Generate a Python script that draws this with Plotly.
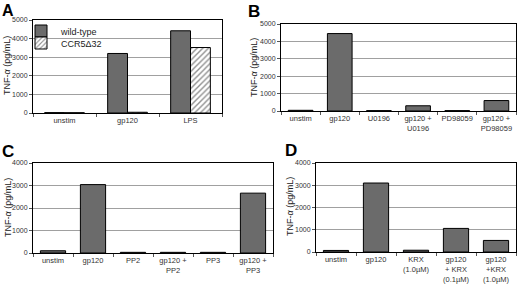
import plotly.graph_objects as go

# Panel A
a_cats = ["unstim", "gp120", "LPS"]
a_wild = [20, 3200, 4420]
a_ccr5 = [15, 40, 3520]

# Panel B
b_cats = ["unstim", "gp120", "U0196", "gp120 +<br>U0196", "PD98059", "gp120 +<br>PD98059"]
b_vals = [40, 4450, 20, 300, 20, 600]

# Panel C
c_cats = ["unstim", "gp120", "PP2", "gp120 +<br>PP2", "PP3", "gp120 +<br>PP3"]
c_vals = [100, 3040, 30, 30, 30, 2660]

# Panel D
d_cats = ["unstim", "gp120", "KRX<br>(1.0µM)", "gp120<br>+ KRX<br>(0.1µM)", "gp120<br>+KRX<br>(1.0µM)"]
d_vals = [70, 3100, 80, 1060, 520]

y_ticks_ab = [0, 1000, 2000, 3000, 4000, 5000]
y_ticks_cd = [0, 1000, 2000, 3000, 4000]
y_title = "TNF-<i>α</i> (pg/mL)"

BAR = "#6b6b6b"
FONT = "Liberation Sans, Arial, sans-serif"
W, H = 520, 292

fig = go.Figure()

fig.add_trace(go.Bar(x=a_cats, y=a_wild, name="wild-type", xaxis="x", yaxis="y", legend="legend",
                     marker=dict(color=BAR, line=dict(color="black", width=1))))
fig.add_trace(go.Bar(x=a_cats, y=a_ccr5, name="CCR5Δ32", xaxis="x", yaxis="y", legend="legend2",
                     marker=dict(color="white", line=dict(color="black", width=1),
                                 pattern=dict(shape="/", fgcolor="#222", bgcolor="white",
                                              size=4, solidity=0.35))))
fig.add_trace(go.Bar(x=b_cats, y=b_vals, xaxis="x2", yaxis="y2", showlegend=False,
                     marker=dict(color=BAR, line=dict(color="black", width=1))))
fig.add_trace(go.Bar(x=c_cats, y=c_vals, xaxis="x3", yaxis="y3", showlegend=False,
                     marker=dict(color=BAR, line=dict(color="black", width=1))))
fig.add_trace(go.Bar(x=d_cats, y=d_vals, xaxis="x4", yaxis="y4", showlegend=False,
                     marker=dict(color=BAR, line=dict(color="black", width=1))))


def px_dom_x(a, b):
    return [a / W, b / W]


def px_dom_y(top, bottom):
    return [1 - bottom / H, 1 - top / H]


xcommon = dict(showline=True, linecolor="black", linewidth=1, mirror=True,
               ticks="outside", tickson="boundaries", ticklen=3, tickcolor="#555",
               tickangle=0, automargin=False,
               tickfont=dict(size=7.5, color="#333", family=FONT), showgrid=False,
               fixedrange=True)
ycommon = dict(showline=True, linecolor="black", linewidth=1, mirror=True,
               ticks="outside", ticklen=3, tickcolor="#555", automargin=False,
               tickfont=dict(size=7, color="#333", family=FONT),
               showgrid=True, gridcolor="#a0a0a0", gridwidth=1, zeroline=False,
               fixedrange=True)

leg_common = dict(xanchor="left", yanchor="middle", bgcolor="rgba(0,0,0,0)",
                  font=dict(size=9, color="#222", family=FONT), itemwidth=30,
                  borderwidth=0)

layout = dict(
    width=W, height=H, margin=dict(l=0, r=0, t=0, b=0, autoexpand=False),
    paper_bgcolor="white", plot_bgcolor="white",
    font=dict(family=FONT),
    barmode="group",
    showlegend=True,
    legend=dict(leg_common, x=21 / W, y=1 - 31 / H),
    legend2=dict(leg_common, x=21 / W, y=1 - 43 / H),
)

layout["xaxis"] = dict(xcommon, domain=px_dom_x(33, 222), anchor="y")
layout["yaxis"] = dict(ycommon, domain=px_dom_y(20, 113), anchor="x", range=[0, 5000],
                       tickvals=y_ticks_ab)
layout["xaxis2"] = dict(xcommon, domain=px_dom_x(281, 516), anchor="y2")
layout["yaxis2"] = dict(ycommon, domain=px_dom_y(24, 111), anchor="x2", range=[0, 5000],
                        tickvals=y_ticks_ab)
layout["xaxis3"] = dict(xcommon, domain=px_dom_x(33, 273), anchor="y3")
layout["yaxis3"] = dict(ycommon, domain=px_dom_y(163, 253), anchor="x3", range=[0, 4000],
                        tickvals=y_ticks_cd)
layout["xaxis4"] = dict(xcommon, domain=px_dom_x(316, 516), anchor="y4")
layout["yaxis4"] = dict(ycommon, domain=px_dom_y(163, 252), anchor="x4", range=[0, 4000],
                        tickvals=y_ticks_cd)

fig.update_layout(**layout)
fig.update_layout(bargap=0.37, bargroupgap=0)

letters = [("A", 0.5, 10, 16), ("B", 247, 12, 17), ("C", 1, 151, 17), ("D", 284, 150, 17)]
for t, x, y, s in letters:
    fig.add_annotation(text=f"<b>{t}</b>", x=x / W, y=1 - y / H, xref="paper", yref="paper",
                       xanchor="left", yanchor="middle", showarrow=False, borderpad=0,
                       font=dict(size=s, color="black", family=FONT))

titles = [(7, 66), (254, 68), (8, 208), (290, 207)]
for x, y in titles:
    fig.add_annotation(text=y_title, x=x / W, y=1 - y / H, xref="paper", yref="paper",
                       xanchor="center", yanchor="middle", textangle=-90, showarrow=False,
                       font=dict(size=9, color="#222", family=FONT))

fig.write_html("out.html", config={"displayModeBar": False},
               post_script="document.body.style.margin='0px';document.body.style.padding='0px';")
